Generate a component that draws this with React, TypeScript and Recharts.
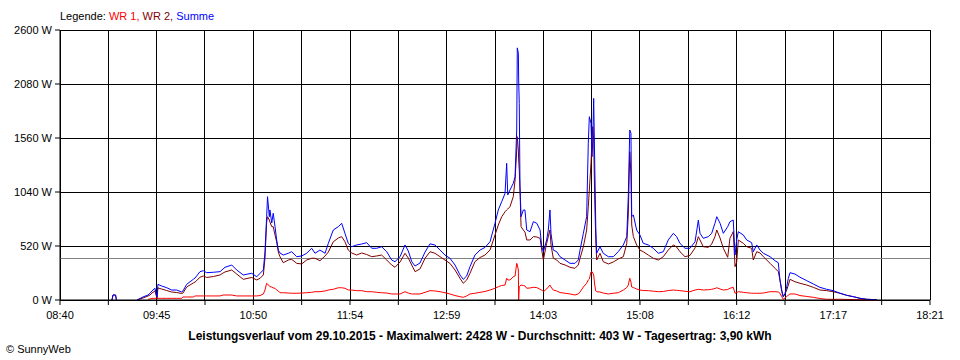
import React from "react";
import { LineChart, Line, XAxis, YAxis, CartesianGrid, ReferenceLine } from "recharts";

// time in minutes since midnight
const times: number[] = [
  554.7, 555.4, 557.1, 557.7, 563.4,
  571.4, 575.4, 578.8, 580.1, 581.4, 583.4, 584.8, 585.4, 587.9, 591.3, 594.6, 597.9, 601.3, 602.1, 604.6,
  609.0, 610.2, 613.5, 615.7, 618.0, 622.4, 626.9, 628.9, 630.2, 634.7, 638.0, 642.4, 648.0, 651.4, 653.6,
  655.8, 656.9, 658.0, 658.6, 659.8, 660.2, 661.4, 662.4, 663.6, 664.7, 665.8, 666.9, 669.1, 672.5, 674.7,
  678.1, 681.4, 684.7, 688.1, 690.3, 693.6, 697.0, 699.2, 702.5, 705.9, 708.1, 710.3, 712.5, 714.8, 718.1,
  721.5, 724.8, 728.2, 731.5, 734.8, 738.2, 741.5, 743.7, 747.1, 750.4, 752.6, 754.9, 757.1, 760.4, 763.8,
  767.1, 770.4, 773.8, 777.1, 780.4, 783.8, 787.1, 789.3, 791.6, 793.8, 797.1, 800.5, 803.8, 807.2, 810.5,
  812.7, 815.0, 817.2, 818.3, 819.0, 820.5, 822.7, 823.9, 825.0, 825.4, 826.1, 826.3, 826.7, 827.2, 827.9,
  829.4, 830.5, 831.7, 833.9, 836.1, 838.4, 840.6, 841.7, 842.8, 845.0, 846.1, 847.2, 847.9, 849.4, 851.7,
  853.9, 857.3, 860.6, 863.9, 866.1, 867.3, 869.5, 871.7, 872.8, 873.5, 874.6, 875.3, 875.8, 876.4, 877.1,
  877.8, 878.4, 880.6, 882.8, 886.2, 889.5, 892.8, 896.2, 898.5, 899.5, 900.5, 901.3, 901.8, 902.9, 905.1,
  907.3, 909.5, 912.9, 916.2, 919.6, 922.9, 926.2, 929.6, 931.8, 934.0, 937.4, 940.7, 944.1, 946.3, 947.4,
  949.6, 953.0, 955.2, 957.4, 958.6, 960.8, 963.0, 965.9, 967.4, 969.6, 970.8, 971.9, 973.0, 976.3, 978.6,
  981.9, 983.0, 985.3, 987.5, 989.7, 994.2, 997.5, 999.7, 1000.8, 1002.0, 1003.0, 1004.2, 1005.3, 1006.4, 1007.5,
  1010.8, 1014.2, 1018.7, 1023.1, 1027.5, 1032.0, 1036.4, 1040.9, 1045.4, 1049.8, 1054.3, 1058.7, 1065.4,
];

const summe: (number | null)[] = [
  0, 48, 48, 0, null,
  0, 29, 48, 65, 87, 113, 29, 151, 135, 118, 96, 96, 77, 87, 151,
  199, 212, 273, 282, 263, 267, 273, 299, 315, 337, 289, 241, 257, 224, 257,
  289, 465, 802, 995, 802, 867, 741, 835, 706, 578, 481, 453, 433, 450, 465,
  417, 424, 450, 498, 450, 481, 450, 546, 674, 706, 739, 642, 546, 513, 530,
  539, 552, 498, 498, 513, 465, 385, 369, 417, 530, 472, 369, 327, 356, 462,
  541, 530, 481, 433, 402, 337, 241, 199, 231, 321, 433, 481, 506, 561, 739,
  867, 947, 1027, 1316, 1011, 1059, 1124, 1187, 1637, 2428, 2376, 2119, 1894, 1091, 802,
  867, 867, 674, 658, 754, 739, 674, 513, 465, 578, 674, 867, 642, 481, 465,
  417, 385, 353, 353, 385, 481, 642, 802, 1509, 1765, 1702, 1380, 1541, 1942, 1316,
  706, 450, 513, 450, 417, 417, 465, 530, 610, 995, 1637, 1605, 802, 819, 674,
  626, 546, 530, 498, 450, 465, 578, 642, 610, 546, 498, 498, 561, 770, 642,
  594, 610, 642, 739, 802, 739, 642, 706, 754, 770, 433, 578, 658, 626, 578,
  552, 465, 530, 481, 450, 417, 378, 359, 193, 96, 32, 65, 128, 209, 263,
  250, 219, 186, 154, 122, 103, 90, 65, 45, 32, 16, 7, 3,
];

const wr2: (number | null)[] = [
  0, 48, 48, 0, null,
  0, 19, 39, 48, 67, 87, 14, 116, 106, 91, 77, 72, 63, 67, 125,
  164, 173, 219, 231, 217, 226, 241, 260, 270, 289, 250, 199, 217, 193, 209,
  241, 404, 751, 802, 770, 751, 706, 706, 626, 559, 462, 417, 359, 385, 392,
  353, 347, 385, 402, 402, 378, 424, 462, 561, 597, 610, 561, 481, 453, 433,
  453, 438, 417, 424, 433, 385, 337, 315, 366, 450, 404, 337, 273, 299, 402,
  465, 450, 417, 385, 353, 289, 209, 161, 193, 257, 369, 409, 433, 481, 626,
  722, 802, 850, 867, 876, 898, 995, 1156, 1444, 1573, 1444, 1348, 1252, 1059, 706,
  674, 655, 578, 578, 610, 607, 594, 481, 385, 546, 610, 674, 530, 404, 385,
  353, 337, 315, 305, 337, 402, 513, 674, 898, 1059, 1316, 1541, 1669, 1541, 963,
  578, 385, 450, 369, 347, 366, 395, 417, 546, 819, 1428, 1204, 722, 610, 530,
  481, 465, 433, 402, 385, 417, 481, 530, 510, 465, 417, 429, 501, 610, 578,
  513, 507, 539, 610, 674, 597, 498, 411, 594, 658, 321, 366, 578, 546, 513,
  498, 385, 465, 453, 417, 353, 305, 273, 193, 80, 32, 58, 96, 144, 199,
  176, 161, 144, 122, 96, 90, 80, 65, 45, 32, 16, 7, 3,
];

const wr1: (number | null)[] = [
  null, null, null, null, null,
  null, null, 7, 10, 16, 16, 16, 16, 16, 16, 16, 16, 16, 29, 29,
  29, 39, 39, 39, 39, 39, 39, 48, 48, 48, 39, 39, 39, 39, 43,
  58, 96, 161, 154, 135, 128, 125, 116, 113, 96, 87, 70, 70, 67, 65,
  65, 67, 70, 74, 80, 80, 87, 96, 103, 118, 118, 113, 96, 96, 90,
  90, 80, 80, 74, 70, 67, 58, 58, 58, 80, 67, 58, 58, 58, 74,
  90, 87, 80, 70, 58, 43, 32, 26, 39, 58, 65, 74, 82, 96, 113,
  128, 140, 144, 209, 193, 193, 224, 231, 353, 337, 289, 0, 128, 135, 144,
  140, 135, 113, 116, 122, 120, 103, 96, 80, 106, 125, 144, 125, 96, 87,
  72, 65, 58, 48, 58, 77, 125, 161, 193, 202, 270, 273, 260, 241, 144,
  87, 80, 77, 67, 58, 65, 70, 96, 120, 144, 209, 173, 125, 120, 106,
  96, 91, 90, 85, 80, 82, 91, 96, 93, 90, 84, 80, 96, 103, 101,
  96, 99, 103, 111, 118, 106, 96, 101, 113, 122, 65, 72, 80, 74, 70,
  65, 65, 65, 65, 67, 80, 80, 77, 65, 32, 7, 19, 32, 48, 58,
  58, 43, 34, 26, 14, 7, 7, 7, 5, 4, 3, 2, 0,
];

const xTicks: number[] = [
  520, 552.28, 584.56, 616.83, 649.11, 681.39, 713.67, 745.94, 778.22, 810.5,
  842.78, 875.06, 907.33, 939.61, 971.89, 1004.17, 1036.44, 1068.72, 1101,
];
const xTickLabels: string[] = [
  "08:40", "", "09:45", "", "10:50", "", "11:54", "", "12:59", "",
  "14:03", "", "15:08", "", "16:12", "", "17:17", "", "18:21",
];
const yTicks: number[] = [0, 520, 1040, 1560, 2080, 2600];
const average = 403;

const data = times.map((t, i) => ({
  t,
  wr1: wr1[i],
  wr2: wr2[i],
  summe: summe[i],
}));

const font = "'Liberation Sans', Arial, sans-serif";

export default function App() {
  return (
    <div style={{ position: "absolute", left: 0, top: 0, width: 960, height: 360, background: "#fff", fontFamily: font }}>
      <div style={{ position: "absolute", left: 60, top: 9, fontSize: 11, whiteSpace: "nowrap", lineHeight: "14px" }}>
        <span style={{ color: "#000" }}>Legende: </span>
        <span style={{ color: "#ff0000" }}>WR 1, </span>
        <span style={{ color: "#800000" }}>WR 2, </span>
        <span style={{ color: "#0000ff" }}>Summe</span>
      </div>
      <LineChart width={960} height={360} data={data} margin={{ top: 30, right: 30, left: 0, bottom: 0 }}>
        <CartesianGrid stroke="#000" strokeWidth={1} shapeRendering="crispEdges" />
        <XAxis
          dataKey="t"
          type="number"
          domain={[520, 1101]}
          ticks={xTicks}
          interval={0}
          height={60}
          tickSize={5}
          tickMargin={6}
          stroke="#000"
          tick={{ fill: "#000", fontSize: 11, fontFamily: font }}
          tickFormatter={(v: number, i: number) => xTickLabels[i] ?? ""}
        />
        <YAxis
          type="number"
          domain={[0, 2600]}
          ticks={yTicks}
          interval={0}
          width={60}
          tickSize={5}
          tickMargin={3}
          stroke="#000"
          tick={{ fill: "#000", fontSize: 11, fontFamily: font }}
          tickFormatter={(v: number) => `${v} W`}
        />
        <ReferenceLine y={average} stroke="#808080" strokeWidth={1} shapeRendering="crispEdges" />
        <Line type="linear" dataKey="wr1" stroke="#ff0000" strokeWidth={1} dot={false} isAnimationActive={false} />
        <Line type="linear" dataKey="wr2" stroke="#800000" strokeWidth={1} dot={false} isAnimationActive={false} />
        <Line type="linear" dataKey="summe" stroke="#0000ff" strokeWidth={1} dot={false} isAnimationActive={false} />
      </LineChart>
      <div style={{ position: "absolute", left: 0, width: 960, top: 329, textAlign: "center", fontSize: 12, fontWeight: "bold", whiteSpace: "nowrap", lineHeight: "14px" }}>
        Leistungsverlauf vom 29.10.2015 - Maximalwert: 2428 W - Durchschnitt: 403 W - Tagesertrag: 3,90 kWh
      </div>
      <div style={{ position: "absolute", left: 6, top: 342, fontSize: 11, whiteSpace: "nowrap", lineHeight: "14px" }}>
        © SunnyWeb
      </div>
    </div>
  );
}
